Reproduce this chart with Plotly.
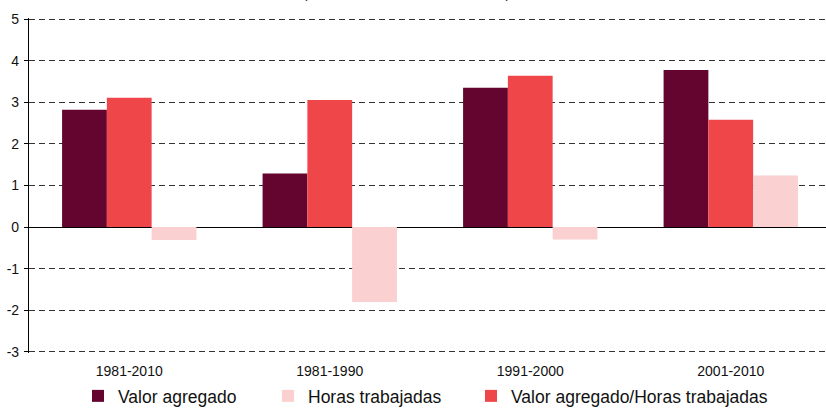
import plotly.graph_objects as go

categories = ["1981-2010", "1981-1990", "1991-2000", "2001-2010"]
valor_agregado = [2.82, 1.29, 3.35, 3.78]
horas_trabajadas = [-0.31, -1.80, -0.30, 1.24]
valor_por_hora = [3.11, 3.06, 3.64, 2.58]
y_ticks = [-3, -2, -1, 0, 1, 2, 3, 4, 5]
y_ticklabels = [str(v) for v in y_ticks]
title_text = "(tasas anuales de variación, en %)"

FONT = "Liberation Sans, Arial, sans-serif"
W, H = 826, 414
M_L, M_R, M_T, M_B = 29, 0, 18, 61

fig = go.Figure()
fig.add_trace(go.Bar(x=categories, y=valor_agregado, name="Valor agregado",
                     marker=dict(color="#63052f", line=dict(width=0)), legend="legend"))
fig.add_trace(go.Bar(x=categories, y=valor_por_hora, name="Valor agregado/Horas trabajadas",
                     marker=dict(color="#ef4749", line=dict(width=0)), legend="legend3"))
fig.add_trace(go.Bar(x=categories, y=horas_trabajadas, name="Horas trabajadas",
                     marker=dict(color="#fad0d1", line=dict(width=0)), legend="legend2"))

n = len(categories)
xrange = [-0.5, n - 0.525]
ypad = 0.03
zero_pos = (0 - (y_ticks[0] - ypad)) / ((y_ticks[-1] + ypad) - (y_ticks[0] - ypad))
plot_h = H - M_T - M_B
plot_w = W - M_L - M_R


def leg(xpix):
    return dict(orientation="h", xref="container", yref="container",
                x=xpix / W, y=-7 / H, xanchor="left", yanchor="bottom",
                font=dict(size=17.5, color="#111111"), bgcolor="rgba(0,0,0,0)")


fig.update_layout(
    width=W, height=H,
    margin=dict(l=M_L, r=M_R, t=M_T, b=M_B, pad=0, autoexpand=False),
    paper_bgcolor="white", plot_bgcolor="white",
    font=dict(family=FONT, size=14, color="#111111"),
    barmode="group", bargap=0.33, bargroupgap=0,
    showlegend=True,
    legend=leg(78), legend2=leg(268), legend3=leg(471),
    xaxis=dict(type="category", range=xrange, showline=False, ticks="",
               showgrid=False, zeroline=False, tickfont=dict(size=14),
               ticklabelstandoff=8, automargin=False),
    xaxis2=dict(overlaying="x", anchor="free", position=zero_pos, type="linear",
                range=xrange, tickvals=[i + 0.5 for i in range(n - 1)],
                ticks="outside", ticklen=5, tickwidth=1.2, tickcolor="#000",
                showticklabels=False, showline=False, showgrid=False, zeroline=False,
                automargin=False),
    yaxis=dict(range=[y_ticks[0] - ypad, y_ticks[-1] + ypad],
               tickvals=y_ticks, ticktext=y_ticklabels,
               showline=True, linecolor="#000", linewidth=1.2,
               ticks="outside", ticklen=4, tickcolor="#000", tickwidth=1,
               showgrid=True, gridcolor="#333333", gridwidth=1, griddash="6px,4px",
               zeroline=True, zerolinecolor="#000", zerolinewidth=1.4,
               tickfont=dict(size=14), ticklabelstandoff=2, automargin=False),
    annotations=[dict(text=title_text,
                      xref="paper", yref="paper", x=(406.5 - M_L) / plot_w,
                      y=1.0 + (M_T - 2.5) / plot_h,
                      xanchor="center", yanchor="bottom", showarrow=False,
                      font=dict(size=13.5, color="#111111"))],
)

fig.write_html("out.html", config={"displayModeBar": False},
               post_script="document.body.style.margin='0';")
